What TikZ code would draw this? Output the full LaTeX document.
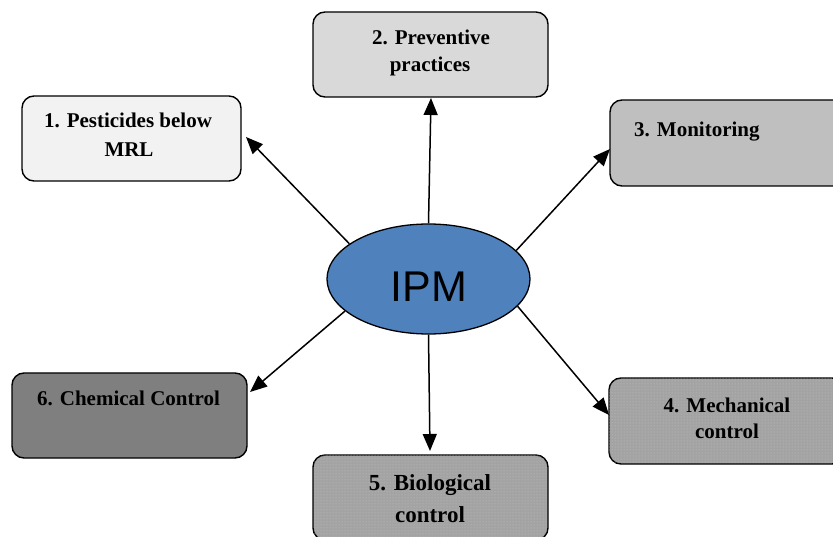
\documentclass[tikz,border=0pt]{standalone}
\usepackage{fontspec}
\setmainfont{Liberation Serif}
\newfontfamily\arialfont{Liberation Sans}
\usetikzlibrary{arrows.meta,patterns,shapes.geometric}
\definecolor{cA}{HTML}{F2F2F2}
\definecolor{cB}{HTML}{D9D9D9}
\definecolor{cC}{HTML}{BFBFBF}
\definecolor{cD}{HTML}{A3A3A3}
\definecolor{cDot}{HTML}{C4C4C4}
\definecolor{cF}{HTML}{7F7F7F}
\definecolor{ipmblue}{HTML}{4F81BD}
\tikzset{
  box/.style={draw=black, line width=1.4pt, rounded corners=12pt, rectangle, inner sep=0pt},
  dotbox/.style={box, fill=cD, postaction={pattern=dots, pattern color=cDot}},
  lbl/.style={anchor=base, inner sep=0pt, font=\fontsize{21}{25}\selectfont\bfseries},
  lblbig/.style={anchor=base, inner sep=0pt, font=\fontsize{23}{27}\selectfont\bfseries},
  arr/.style={line width=1.5pt, -{Triangle[length=17pt,width=14pt]}},
}
\begin{document}
\begin{tikzpicture}[x=1pt,y=-1pt]
\useasboundingbox (0,0) rectangle (833,537);
\clip (0,0) rectangle (833,537);
% boxes
\node[box, fill=cA, minimum width=219pt, minimum height=85pt] (b1) at (131.5,138.5) {};
\node[box, fill=cB, minimum width=235pt, minimum height=85pt] (b2) at (430.5,54.5) {};
\node[box, fill=cC, minimum width=235pt, minimum height=86pt] (b3) at (727.5,143) {};
\node[dotbox, minimum width=235pt, minimum height=86pt] (b4) at (726.5,421) {};
\node[dotbox, minimum width=235pt, minimum height=85pt] (b5) at (430.5,497.5) {};
\node[box, fill=cF, minimum width=235pt, minimum height=85pt] (b6) at (129.5,415.5) {};
% texts
\node[lbl] (t1a) at (128,128) {1. Pesticides below};
\node[lbl] (t1b) at (129,157) {MRL};
\node[lbl] (t2a) at (431,45) {2. Preventive};
\node[lbl] (t2b) at (430,72) {practices};
\node[lbl, anchor=base west] (t3) at (634,137) {3. Monitoring};
\node[lbl] (t4a) at (727,413) {4. Mechanical};
\node[lbl] (t4b) at (727,438) {control};
\node[lblbig] (t5a) at (430,490) {5. Biological};
\node[lblbig] (t5b) at (430,522) {control};
\node[lbl] (t6) at (128.5,405) {6. Chemical Control};
% centre
\node[ellipse, draw=black, line width=1.3pt, fill=ipmblue, minimum width=203pt, minimum height=110pt, inner sep=0pt] (ipm) at (428.5,279) {};
\node[anchor=base, inner sep=0pt, font=\arialfont\fontsize{43}{48}\selectfont] (ipmt) at (428.7,302) {IPM};
% arrow tips
\coordinate (h1) at (246,137);
\coordinate (h2) at (431,98);
\coordinate (h3) at (610,149);
\coordinate (h4) at (609,415);
\coordinate (h5) at (430,451);
\coordinate (h6) at (250,392);
\draw[arr] (ipm.156.6) -- (h1);
\draw[arr] (ipm.90) -- (h2);
\draw[arr] (ipm.18.1) -- (h3);
\draw[arr] (ipm.-17.6) -- (h4);
\draw[arr] (ipm.-90) -- (h5);
\draw[arr] (ipm.201.1) -- (h6);
\end{tikzpicture}
\end{document}
